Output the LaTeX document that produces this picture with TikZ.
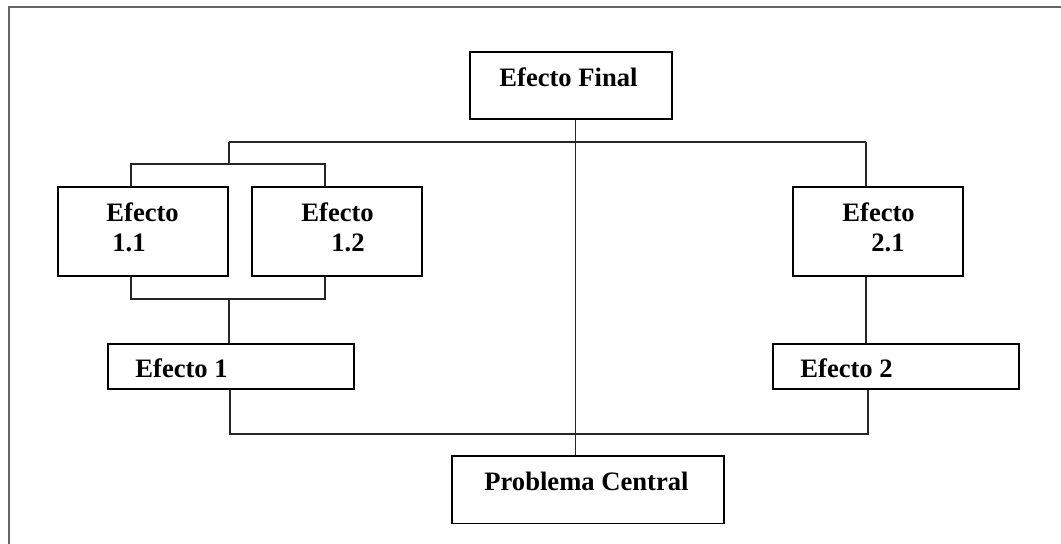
\documentclass[tikz,border=0pt]{standalone}
\usepackage{fontspec}
\setmainfont{Liberation Serif}
\begin{document}
\begin{tikzpicture}[x=0.5pt,y=-0.5pt,
  box/.style={draw=black,line width=0.6pt,rectangle,inner sep=0pt},
  lbl/.style={anchor=base west,inner sep=0pt,font=\fontsize{13.3}{16}\selectfont\bfseries},
  conn/.style={draw=black!85,line width=0.55pt}]
\useasboundingbox (0,0) rectangle (1061,544);
\draw[draw=black!60,line width=0.6pt] (9,544) -- (9,7) -- (1061,7);
% boxes
\node[box,minimum width=101pt,minimum height=33.5pt] (ef) at (571,85.5) {};
\node[box,minimum width=85pt,minimum height=44.5pt] (b11) at (143,231.5) {};
\node[box,minimum width=85pt,minimum height=44.5pt] (b12) at (337,231.5) {};
\node[box,minimum width=85pt,minimum height=44.5pt] (b21) at (878,231.5) {};
\node[box,minimum width=123pt,minimum height=22.5pt] (e1) at (231,366.5) {};
\node[box,minimum width=123pt,minimum height=22.5pt] (e2) at (896,366.5) {};
\node[box,minimum width=136pt,minimum height=33.75pt] (pc) at (588,489.75) {};
% labels
\node[lbl] (tef) at (499,87) {Efecto Final};
\node[lbl] (t11a) at (106,222) {Efecto};
\node[lbl] (t11b) at (112,252) {1.1};
\node[lbl] (t12a) at (301,222) {Efecto};
\node[lbl] (t12b) at (331,252) {1.2};
\node[lbl] (t21a) at (842,222) {Efecto};
\node[lbl] (t21b) at (871,252) {2.1};
\node[lbl] (te1) at (135,378) {Efecto 1};
\node[lbl] (te2) at (800,378) {Efecto 2};
\node[lbl] (tpc) at (484,491) {Problema Central};
% junctions
\coordinate (cx) at (575.5,0);
\coordinate (tL) at (229,142);
\coordinate (tR) at (866,142);
\coordinate (sL) at (131,164);
\coordinate (sR) at (325,164);
\coordinate (lL) at (131,299);
\coordinate (lR) at (325,299);
\coordinate (bL) at (230,434);
\coordinate (bR) at (868,434);
% connectors
\draw[conn] (ef.south -| cx) -- (pc.north -| cx);
\draw[conn] (tL) -- (tR);
\draw[conn] (tR) -- (tR |- b21.north);
\draw[conn] (tL) -- (tL |- sL);
\draw[conn] (sL |- b11.north) -- (sL) -- (sR) -- (sR |- b12.north);
\draw[conn] (lL |- b11.south) -- (lL) -- (lR) -- (lR |- b12.south);
\draw[conn] (tL |- lL) -- (tL |- e1.north);
\draw[conn] (bL |- e1.south) -- (bL) -- (bR) -- (bR |- e2.south);
\draw[conn] (tR |- b21.south) -- (tR |- e2.north);
\end{tikzpicture}
\end{document}
